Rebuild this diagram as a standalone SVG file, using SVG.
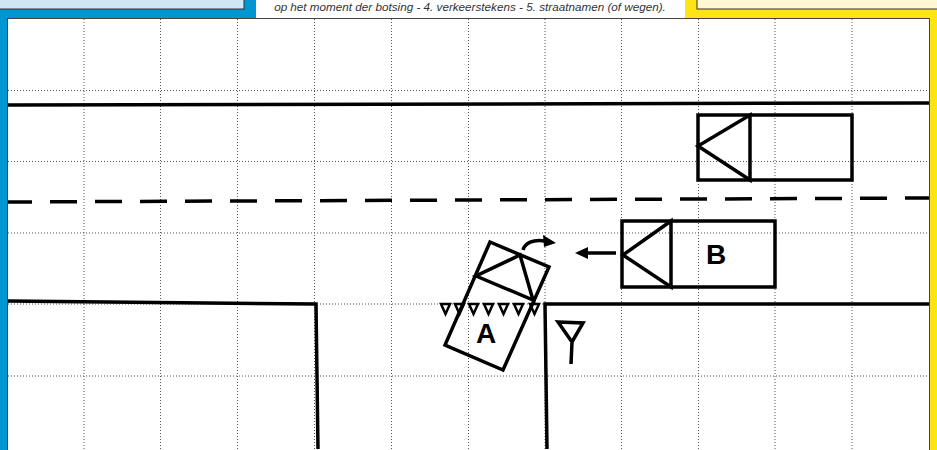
<svg xmlns="http://www.w3.org/2000/svg" width="937" height="450" viewBox="0 0 937 450">
<style>
.g{stroke:#555;stroke-width:1;stroke-dasharray:1 2;fill:none}
.k{stroke:#000;stroke-width:3.500;fill:none}
.v{stroke:#000;stroke-width:3.500;fill:none;stroke-linejoin:miter}
.t{stroke:#000;stroke-width:2.500;fill:none}
.l{font-family:"Liberation Sans",Arial,sans-serif;font-weight:bold;font-size:28px;fill:#000}
</style>
<rect width="937" height="450" fill="#fff"/>
<rect x="0" y="0" width="256" height="450" fill="#0095d3"/>
<rect x="685" y="0" width="252" height="450" fill="#ffe413"/>
<rect x="-2" y="-2" width="246" height="11" fill="#cfe6f5" stroke="#333" stroke-width="1"/>
<rect x="697" y="-2" width="242" height="11" fill="#fff8d2" stroke="#333" stroke-width="1"/>
<text x="470" y="11" text-anchor="middle" font-family="'Liberation Sans',Arial,sans-serif" font-style="italic" font-size="11.700" fill="#333">op het moment der botsing - 4. verkeerstekens - 5. straatnamen (of wegen).</text>
<rect x="7.500" y="18.500" width="922" height="433" fill="#fff" stroke="#444" stroke-width="1"/>
<g id="grid">
<path class="g" d="M84 19V450M160.500 19V450M237.500 19V450M314.500 19V450M391.500 19V450M468.500 19V450M545 19V450M621.500 19V450M698.500 19V450M775 19V450M852 19V450"/>
<path class="g" d="M8 90.500H929M8 161.500H929M8 233H929M8 304H929M8 376H929"/>
</g>
<g id="road">
<path class="k" d="M8 105L929 103"/>
<path class="k" d="M8 202L929 198" stroke-dasharray="27 18" stroke-dashoffset="3"/>
<path class="k" d="M8 301L316 304L318 449"/>
<path class="k" d="M929 304H545L547 449"/>
</g>
<g id="vehicle-parked">
<path class="v" d="M698 115H852V180H698Z"/>
<path class="v" d="M750 115V180L698 146Z"/>
</g>
<g id="vehicle-b">
<path class="v" d="M622 221H775V287H622Z"/>
<path class="v" d="M671 221V287L623 255Z"/>
<text class="l" x="706" y="264">B</text>
</g>
<g id="yield-markings">
<path class="t" d="M441 304H450L445.500 314ZM455 304H464L459.500 314ZM469 304H478L473.500 314ZM484 304H493L488.500 314ZM499 304H508L503.500 314ZM514 304H523L518.500 314ZM530 304H539L534.500 314Z"/>
</g>
<g id="vehicle-a">
<path class="v" d="M490 242L549 267L503 370L445 345Z"/>
<path class="v" d="M520 255L476 276L533 300Z"/>
<text class="l" x="476" y="343">A</text>
</g>
<g id="sign">
<path class="k" d="M558 322L583 323L572 342ZM572 342L571 364"/>
</g>
<g id="connectors">
<path class="k" d="M523 250C525 243 533 239 545 241"/>
<path d="M556 243L543 235L544 247Z" fill="#000"/>
<path class="k" d="M616 253H587"/>
<path d="M575 253L588 247V259Z" fill="#000"/>
</g>
</svg>
